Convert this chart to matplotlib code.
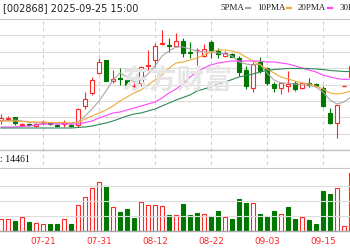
import numpy as np
import matplotlib.pyplot as plt
from matplotlib.patches import Rectangle
from matplotlib.lines import Line2D
from matplotlib.transforms import blended_transform_factory

# trading days visible in the crop (07-11 .. 09-19)
dates = ["07-11", "07-14", "07-15", "07-16", "07-17", "07-18",
         "07-21", "07-22", "07-23", "07-24", "07-25",
         "07-28", "07-29", "07-30", "07-31", "08-01",
         "08-04", "08-05", "08-06", "08-07", "08-08",
         "08-11", "08-12", "08-13", "08-14", "08-15",
         "08-18", "08-19", "08-20", "08-21", "08-22",
         "08-25", "08-26", "08-27", "08-28", "08-29",
         "09-01", "09-02", "09-03", "09-04", "09-05",
         "09-08", "09-09", "09-10", "09-11", "09-12",
         "09-15", "09-16", "09-17", "09-18", "09-19"]
label_dates = ["07-21", "07-31", "08-12", "08-22", "09-03", "09-15"]

opens = [8.00, 8.10, 8.30, 7.55, 7.65, 7.40, 7.75, 7.70, 7.55, 7.60, 7.55,
         7.50, 9.45, 10.70, 12.70, 14.00, 11.95, 12.25, 12.00, 11.40, 11.70,
         13.45, 14.00, 15.60, 15.55, 15.40, 15.90, 14.80, 15.00, 14.40, 15.80,
         14.90, 14.40, 14.65, 14.20, 13.00, 11.20, 13.80, 13.20, 11.60, 11.20,
         11.40, 11.75, 11.20, 11.70, 11.60, 11.20, 8.70, 7.70, 11.40, 12.30]
highs = [8.60, 8.40, 8.30, 7.70, 7.70, 7.70, 8.05, 7.75, 7.60, 8.00, 7.60,
         9.20, 10.80, 12.30, 14.20, 14.05, 13.00, 13.20, 12.10, 11.70, 13.40,
         15.00, 15.70, 17.00, 16.20, 16.70, 16.20, 15.80, 15.20, 15.65, 16.00,
         15.20, 14.90, 14.70, 14.40, 13.40, 13.80, 14.30, 13.30, 11.80, 11.80,
         12.90, 11.90, 11.80, 12.20, 11.70, 11.40, 9.20, 9.50, 11.40, 13.60]
lows = [7.60, 7.90, 7.50, 7.40, 7.45, 7.30, 7.50, 7.50, 7.30, 7.30, 7.30,
        7.30, 9.10, 10.50, 12.60, 11.90, 11.70, 11.50, 11.20, 11.15, 11.40,
        13.00, 13.30, 15.55, 14.80, 15.35, 14.30, 14.20, 13.30, 14.30, 14.20,
        14.20, 14.30, 14.30, 12.40, 11.10, 10.80, 12.70, 11.50, 10.80, 10.60,
        10.80, 10.90, 11.10, 11.30, 11.30, 9.30, 7.60, 6.20, 11.40, 12.20]
closes = [8.20, 8.20, 7.70, 7.65, 7.55, 7.60, 7.85, 7.60, 7.45, 7.70, 7.45,
          9.15, 10.10, 12.05, 13.85, 11.90, 12.10, 12.15, 11.50, 11.40, 13.30,
          13.55, 15.40, 15.70, 15.45, 15.90, 14.70, 14.70, 15.00, 15.15, 15.00,
          14.65, 14.75, 14.35, 12.80, 11.40, 13.60, 12.90, 11.70, 11.20, 11.75,
          11.65, 11.10, 11.70, 11.50, 11.40, 9.40, 7.75, 9.50, 11.40, 13.40]

ma5 = [7.90, 7.95, 8.00, 7.90, 7.80, 7.70, 7.70, 7.75, 7.70, 7.70, 7.65,
       7.80, 8.40, 9.10, 9.90, 10.90, 12.00, 12.70, 12.30, 11.80, 12.00,
       12.60, 13.40, 14.40, 14.90, 15.30, 15.30, 15.10, 14.90, 14.80, 14.80,
       14.70, 14.60, 14.40, 13.80, 13.60, 13.50, 13.60, 12.70, 12.00, 11.70,
       11.70, 11.60, 11.50, 11.50, 11.30, 10.80, 10.00, 9.60, 9.80, 10.30]
ma10 = [7.90, 7.90, 7.90, 7.85, 7.80, 7.80, 7.80, 7.75, 7.75, 7.75, 7.70,
        7.75, 8.10, 8.40, 8.70, 9.00, 9.40, 9.90, 10.30, 10.70, 11.00,
        11.50, 12.00, 12.50, 13.20, 13.70, 13.80, 14.00, 14.20, 14.50, 14.80,
        15.00, 15.00, 14.90, 14.70, 14.30, 13.90, 13.50, 13.10, 12.70, 12.30,
        12.10, 11.90, 11.70, 11.60, 11.40, 11.10, 10.70, 10.60, 10.70, 10.90]
ma20 = [7.30, 7.30, 7.30, 7.35, 7.40, 7.50, 7.60, 7.60, 7.60, 7.60, 7.60,
        7.60, 7.75, 7.90, 8.20, 8.45, 8.70, 8.80, 9.00, 9.20, 9.40,
        9.60, 9.80, 10.20, 10.70, 11.10, 11.60, 12.30, 12.80, 13.20, 13.50,
        13.70, 13.80, 13.90, 13.90, 13.90, 13.90, 13.90, 13.80, 13.80, 13.70,
        13.60, 13.40, 13.20, 13.00, 12.80, 12.50, 12.30, 12.15, 12.05, 12.10]
ma30 = [7.20, 7.20, 7.20, 7.20, 7.20, 7.20, 7.20, 7.20, 7.20, 7.20, 7.20,
        7.25, 7.30, 7.40, 7.55, 7.70, 7.90, 8.15, 8.40, 8.60, 8.70,
        8.90, 9.10, 9.40, 9.70, 10.00, 10.25, 10.50, 10.90, 11.10, 11.30,
        11.60, 11.80, 12.05, 12.30, 12.45, 12.60, 12.80, 12.95, 13.05, 13.10,
        13.15, 13.15, 13.15, 13.15, 13.10, 13.05, 12.95, 12.90, 12.85, 12.85]

volumes = [4680, 4920, 4000, 5480, 3480, 3080, 2800, 2680, 2920, 4920, 2800,
           10400, 13480, 17080, 19480, 17880, 9480, 7480, 8680, 5080, 11480,
           10520, 10400, 9880, 6280, 6400, 10680, 6400, 7080, 6680, 6000,
           8000, 5480, 4680, 12800, 11320, 11080, 6680, 5880, 8000, 6680,
           9600, 4680, 5480, 4400, 2920, 16000, 14920, 17080, 1880, 23200]
# 1 = red (up) volume bar, 0 = green
vol_up = [1, 1, 0, 1, 0, 1, 1, 0, 0, 1, 0,
          1, 1, 1, 1, 0, 1, 0, 0, 0, 1,
          1, 1, 1, 0, 1, 0, 0, 0, 1, 0,
          0, 1, 0, 0, 0, 1, 0, 0, 0, 1,
          0, 0, 1, 0, 0, 0, 0, 1, 1, 1]
last_volume = 14461

RED = "#ff2828"
GREEN = "#007800"
GRID = "#dcdcdc"

fig = plt.figure(figsize=(3.5, 2.5), dpi=100)
ax = fig.add_axes([0, 0.4, 1, 0.524])
axv = fig.add_axes([0, 0.076, 1, 0.252], sharex=ax)

x = np.arange(len(closes))
w = 0.7

# watermark
fig.text(177 / 350, 1 - 81 / 250, "东方财富", fontsize=20, fontweight="bold",
         color="#e6e6e6", ha="center", va="center",
         family=["Noto Sans CJK SC", "DejaVu Sans"], zorder=0)

for i in x:
    o, h, l, c = opens[i], highs[i], lows[i], closes[i]
    if c > o:
        ax.vlines(i, c, h, color=RED, lw=0.8, zorder=2)
        ax.vlines(i, l, o, color=RED, lw=0.8, zorder=2)
        ax.add_patch(Rectangle((i - w / 2, o), w, c - o, fc="white", ec=RED, lw=0.8, zorder=2))
    elif c < o:
        ax.vlines(i, l, h, color=GREEN, lw=0.8, zorder=2)
        ax.add_patch(Rectangle((i - w / 2, c), w, o - c, fc=GREEN, ec=GREEN, lw=0.8, zorder=2))
    else:
        ax.vlines(i, l, h, color=RED, lw=0.8, zorder=2)
        ax.hlines(c, i - w / 2, i + w / 2, color=RED, lw=1.0, zorder=2)

ax.plot(x, ma5, color="#a8a8a8", lw=0.8, zorder=3)
ax.plot(x, ma10, color="#f2a93b", lw=0.8, zorder=3)
ax.plot(x, ma20, color="#ff44ff", lw=0.8, zorder=3)
ax.plot(x, ma30, color="#2f8a55", lw=0.8, zorder=3)

ax.set_xlim(-1 / 7, 349 / 7)
ax.set_ylim(5.0, 18.1)
ax.set_yticks(np.linspace(5.0, 18.1, 9))
ax.grid(axis="y", color=GRID, lw=0.8)
ax.set_facecolor("none")

for i in x:
    if vol_up[i]:
        axv.add_patch(Rectangle((i - w / 2, 0), w, volumes[i], fc="white", ec=RED, lw=0.8))
    else:
        axv.add_patch(Rectangle((i - w / 2, 0), w, volumes[i], fc=GREEN, ec=GREEN, lw=0.8))
axv.set_ylim(0, 25200)
axv.set_yticks([6000, 12000, 18000])
axv.grid(axis="y", color=GRID, lw=0.8)

for a in (ax, axv):
    a.tick_params(left=False, bottom=False, labelleft=False, labelbottom=False)
    a.spines["left"].set_visible(False)
    a.spines["right"].set_visible(False)
    a.spines["top"].set_color("#c8c8c8")
    a.spines["top"].set_linewidth(0.8)
    a.spines["bottom"].set_color("#c0c0c0")
    a.spines["bottom"].set_linewidth(1.0)
axv.spines["bottom"].set_color("#a8a8a8")

# dashed date lines and labels
trans = blended_transform_factory(ax.transData, fig.transFigure)
for d in label_dates:
    k = dates.index(d)
    ax.add_line(Line2D([k, k], [0.076, 0.924], transform=trans, color="#cfcfcf",
                       lw=0.8, ls=(0, (3, 3)), clip_on=False, zorder=1))
    fig.text(k, 1 - 241 / 250, d, transform=trans, fontsize=6.4, color=RED,
             ha="center", va="center")

# header texts
fig.text(3 / 350, 1 - 8 / 250, "[002868] 2025-09-25 15:00", fontsize=7,
         color="#222222", va="center")
legend = [("5PMA", 220, "#a8a8a8"), ("10PMA", 257, "#f2a93b"),
          ("20PMA", 298, "#ff44ff"), ("30PMA", 340, "#2f8a55")]
for name, px, col in legend:
    t = fig.text(px / 350, 1 - 8 / 250, name, fontsize=6.5, color="#222222",
                 va="center", family="Liberation Serif")
    fig.canvas.draw()
    bb = t.get_window_extent()
    x0 = bb.x1 / 350 + 2 / 350
    fig.add_artist(Line2D([x0, x0 + 4 / 350], [1 - 8 / 250] * 2, color=col, lw=1.6))

fig.text(0, 1 - 160 / 250, ": " + str(last_volume), fontsize=7, color="#111111",
         va="center", family="Liberation Serif")

fig.savefig("out.png", dpi=100)
